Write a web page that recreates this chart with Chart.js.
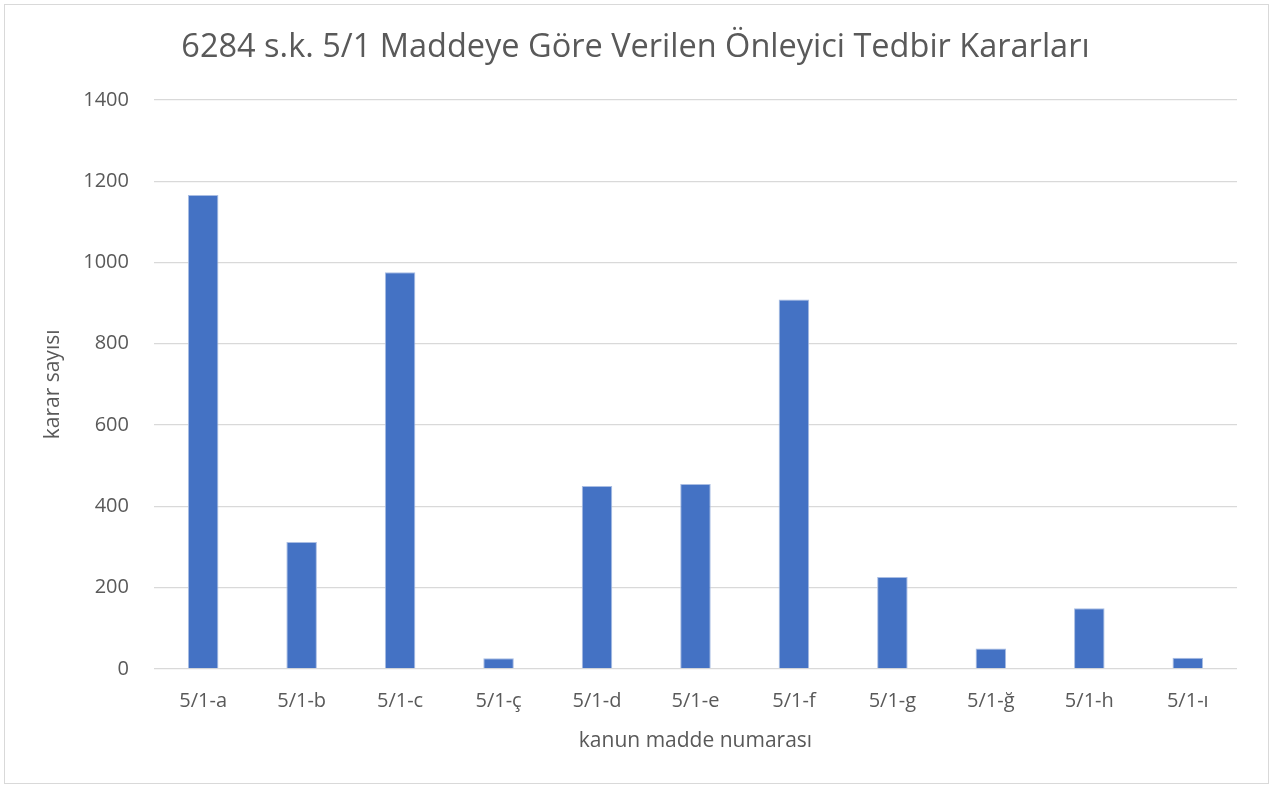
<!DOCTYPE html>
<html>
<head>
<meta charset="utf-8">
<script src="https://cdn.jsdelivr.net/npm/chart.js@4/dist/chart.umd.min.js"></script>
<style>
    body { margin: 0; background: #fff; }
    #wrap { position: absolute; left: 0; top: 0; width: 1275px; height: 787px; }
    #frame { position: absolute; left: 4px; top: 4px; width: 1265px; height: 780px; border: 1px solid #d9d9d9; box-sizing: border-box; }
</style>
</head>
<body>
<div id="wrap">
    <div id="frame"></div>
    <canvas id="chart" width="1275" height="787"></canvas>
</div>
<script>
const categories = ['5/1-a', '5/1-b', '5/1-c', '5/1-ç', '5/1-d', '5/1-e', '5/1-f', '5/1-g', '5/1-ğ', '5/1-h', '5/1-ı'];
const kararSayisi = [1166, 312, 976, 26, 450, 455, 909, 226, 50, 149, 27];
const yTicks = [0, 200, 400, 600, 800, 1000, 1200, 1400];

const FONT = "'Open Sans', sans-serif";
const TEXT = '#595959';

new Chart(document.getElementById('chart'), {
    type: 'bar',
    data: {
        labels: categories,
        datasets: [{
            label: 'karar sayısı',
            data: kararSayisi,
            backgroundColor: '#4472c4',
            borderColor: '#a9bde3',
            borderWidth: 1,
            barPercentage: 0.31,
            categoryPercentage: 1
        }]
    },
    options: {
        responsive: false,
        animation: false,
        layout: { padding: { left: 34, right: 38, top: 18, bottom: 29 } },
        plugins: {
            legend: { display: false },
            tooltip: { enabled: false },
            title: {
                display: true,
                text: '6284 s.k. 5/1 Maddeye Göre Verilen Önleyici Tedbir Kararları',
                color: TEXT,
                font: { family: FONT, size: 32.5, weight: 'normal' },
                padding: { top: 10, bottom: 33 }
            }
        },
        scales: {
            x: {
                grid: { display: false },
                border: { display: false },
                ticks: { color: TEXT, font: { family: FONT, size: 20 }, padding: 12, maxRotation: 0 },
                title: {
                    display: true,
                    text: 'kanun madde numarası',
                    color: TEXT,
                    font: { family: FONT, size: 21 },
                    padding: { top: 4, bottom: 4 }
                }
            },
            y: {
                min: 0,
                max: 1400,
                afterBuildTicks: (axis) => { axis.ticks = yTicks.map(v => ({ value: v })); },
                grid: { color: '#d9d9d9', lineWidth: 1.3, drawTicks: false },
                border: { display: false },
                ticks: {
                    color: TEXT,
                    font: { family: FONT, size: 20 },
                    padding: 25,
                    callback: (value) => String(value)
                },
                title: {
                    display: true,
                    text: 'karar sayısı',
                    color: TEXT,
                    font: { family: FONT, size: 21 },
                    padding: { top: 6, bottom: -7 }
                }
            }
        }
    }
});
</script>
</body>
</html>
